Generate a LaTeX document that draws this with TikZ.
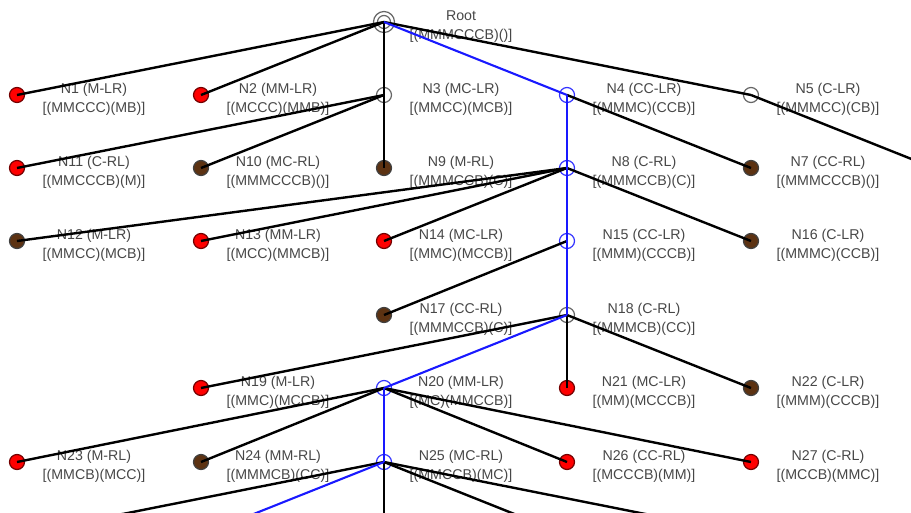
\documentclass[tikz,border=0pt]{standalone}
\usepackage{fontspec}
\setmainfont{Liberation Sans}
\usetikzlibrary{calc}
\begin{document}
\begin{tikzpicture}[x=1pt,y=-1pt,
  vertex/.style={circle,minimum size=15pt,inner sep=0pt,line width=1.2pt},
  open/.style={vertex,draw=black!60,fill=white},
  onpath/.style={vertex,draw=blue!80!white,fill=white},
  dead/.style={vertex,draw=black!55!red,fill=red},
  done/.style={vertex,draw=black!75,fill={rgb,255:red,92;green,50;blue,18}},
  info/.style={text=black!72,font=\fontsize{14.2}{19}\selectfont,align=center,inner sep=0pt},
  edge/.style={line width=2.4pt,black},
  solution/.style={line width=2.1pt,blue!90!white}]
\useasboundingbox (0,0) rectangle (911,512);
\clip (0,0) rectangle (911,512);
\fill[white] (0,0) rectangle (911,512);

% root marker: two concentric rings
\node[circle,draw=black!60,fill=white,line width=1.2pt,minimum size=21pt,inner sep=0pt] (root) at (384,22) {};
\draw[black!60,line width=1.2pt] (root.center) circle[radius=6.5pt];

% level 1
\node[dead]   (n1) at (17,95) {};
\node[dead]   (n2) at (201,95) {};
\node[open]   (n3) at (384,95) {};
\node[onpath] (n4) at (567,95) {};
\node[open]   (n5) at (751,95) {};
% level 2
\node[dead]   (n11) at (17,168) {};
\node[done]   (n10) at (201,168) {};
\node[done]   (n9)  at (384,168) {};
\node[onpath] (n8)  at (567,168) {};
\node[done]   (n7)  at (751,168) {};
% level 3
\node[done]   (n12) at (17,241) {};
\node[dead]   (n13) at (201,241) {};
\node[dead]   (n14) at (384,241) {};
\node[onpath] (n15) at (567,241) {};
\node[done]   (n16) at (751,241) {};
% level 4
\node[done]   (n17) at (384,315) {};
\node[open]   (n18) at (567,315) {};
% level 5
\node[dead]   (n19) at (201,388) {};
\node[onpath] (n20) at (384,388) {};
\node[dead]   (n21) at (567,388) {};
\node[done]   (n22) at (751,388) {};
% level 6
\node[dead]   (n23) at (17,462) {};
\node[done]   (n24) at (201,462) {};
\node[onpath] (n25) at (384,462) {};
\node[dead]   (n26) at (567,462) {};
\node[dead]   (n27) at (751,462) {};

% continuation points of branches leaving the frame
\coordinate (n6)  at (934,168);
\coordinate (c1)  at (17,535);
\coordinate (c2)  at (201,535);
\coordinate (c3)  at (384,535);
\coordinate (c4)  at (567,535);
\coordinate (c5)  at (751,535);

% state labels
\node[info] (lroot) at ($(root)+(77,4.5)$) {Root\\{}[(MMMCCCB)()]};
\node[info] (l1)  at ($(n1)+(77,4.5)$)  {N1 (M-LR)\\{}[(MMCCC)(MB)]};
\node[info] (l2)  at ($(n2)+(77,4.5)$)  {N2 (MM-LR)\\{}[(MCCC)(MMB)]};
\node[info] (l3)  at ($(n3)+(77,4.5)$)  {N3 (MC-LR)\\{}[(MMCC)(MCB)]};
\node[info] (l4)  at ($(n4)+(77,4.5)$)  {N4 (CC-LR)\\{}[(MMMC)(CCB)]};
\node[info] (l5)  at ($(n5)+(77,4.5)$)  {N5 (C-LR)\\{}[(MMMCC)(CB)]};
\node[info] (l11) at ($(n11)+(77,4.5)$) {N11 (C-RL)\\{}[(MMCCCB)(M)]};
\node[info] (l10) at ($(n10)+(77,4.5)$) {N10 (MC-RL)\\{}[(MMMCCCB)()]};
\node[info] (l9)  at ($(n9)+(77,4.5)$)  {N9 (M-RL)\\{}[(MMMCCB)(C)]};
\node[info] (l8)  at ($(n8)+(77,4.5)$)  {N8 (C-RL)\\{}[(MMMCCB)(C)]};
\node[info] (l7)  at ($(n7)+(77,4.5)$)  {N7 (CC-RL)\\{}[(MMMCCCB)()]};
\node[info] (l12) at ($(n12)+(77,4.5)$) {N12 (M-LR)\\{}[(MMCC)(MCB)]};
\node[info] (l13) at ($(n13)+(77,4.5)$) {N13 (MM-LR)\\{}[(MCC)(MMCB)]};
\node[info] (l14) at ($(n14)+(77,4.5)$) {N14 (MC-LR)\\{}[(MMC)(MCCB)]};
\node[info] (l15) at ($(n15)+(77,4.5)$) {N15 (CC-LR)\\{}[(MMM)(CCCB)]};
\node[info] (l16) at ($(n16)+(77,4.5)$) {N16 (C-LR)\\{}[(MMMC)(CCB)]};
\node[info] (l17) at ($(n17)+(77,4.5)$) {N17 (CC-RL)\\{}[(MMMCCB)(C)]};
\node[info] (l18) at ($(n18)+(77,4.5)$) {N18 (C-RL)\\{}[(MMMCB)(CC)]};
\node[info] (l19) at ($(n19)+(77,4.5)$) {N19 (M-LR)\\{}[(MMC)(MCCB)]};
\node[info] (l20) at ($(n20)+(77,4.5)$) {N20 (MM-LR)\\{}[(MC)(MMCCB)]};
\node[info] (l21) at ($(n21)+(77,4.5)$) {N21 (MC-LR)\\{}[(MM)(MCCCB)]};
\node[info] (l22) at ($(n22)+(77,4.5)$) {N22 (C-LR)\\{}[(MMM)(CCCB)]};
\node[info] (l23) at ($(n23)+(77,4.5)$) {N23 (M-RL)\\{}[(MMCB)(MCC)]};
\node[info] (l24) at ($(n24)+(77,4.5)$) {N24 (MM-RL)\\{}[(MMMCB)(CC)]};
\node[info] (l25) at ($(n25)+(77,4.5)$) {N25 (MC-RL)\\{}[(MMCCB)(MC)]};
\node[info] (l26) at ($(n26)+(77,4.5)$) {N26 (CC-RL)\\{}[(MCCCB)(MM)]};
\node[info] (l27) at ($(n27)+(77,4.5)$) {N27 (C-RL)\\{}[(MCCB)(MMC)]};

% explored moves
\draw[edge] (root.center) -- (n1.center);
\draw[edge] (root.center) -- (n2.center);
\draw[edge] (root.center) -- (n3.center);
\draw[edge] (root.center) -- (n5.center);
\draw[edge] (n5.center) -- (n6);
\draw[edge] (n3.center) -- (n11.center);
\draw[edge] (n3.center) -- (n10.center);
\draw[edge] (n3.center) -- (n9.center);
\draw[edge] (n4.center) -- (n7.center);
\draw[edge] (n8.center) -- (n12.center);
\draw[edge] (n8.center) -- (n13.center);
\draw[edge] (n8.center) -- (n14.center);
\draw[edge] (n8.center) -- (n16.center);
\draw[edge] (n15.center) -- (n17.center);
\draw[edge] (n18.center) -- (n19.center);
\draw[edge] (n18.center) -- (n21.center);
\draw[edge] (n18.center) -- (n22.center);
\draw[edge] (n20.center) -- (n23.center);
\draw[edge] (n20.center) -- (n24.center);
\draw[edge] (n20.center) -- (n26.center);
\draw[edge] (n20.center) -- (n27.center);
\draw[edge] (n25.center) -- (c1);
\draw[edge] (n25.center) -- (c3);
\draw[edge] (n25.center) -- (c4);
\draw[edge] (n25.center) -- (c5);

% solution path
\draw[solution] (root.center) -- (n4.center);
\draw[solution] (n4.center) -- (n8.center);
\draw[solution] (n8.center) -- (n15.center);
\draw[solution] (n15.center) -- (n18.center);
\draw[solution] (n18.center) -- (n20.center);
\draw[solution] (n20.center) -- (n25.center);
\draw[solution] (n25.center) -- (c2);
\end{tikzpicture}
\end{document}
